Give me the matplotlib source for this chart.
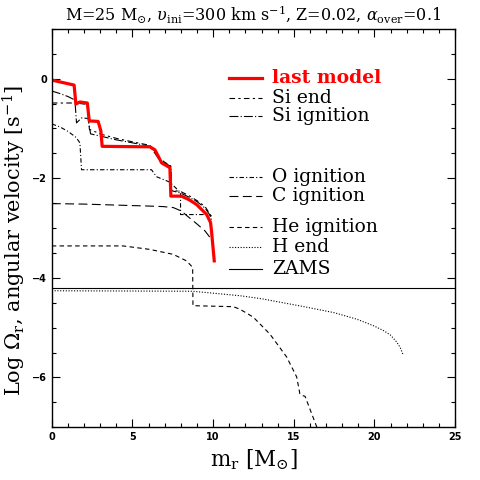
import matplotlib
matplotlib.use("Agg")
import matplotlib.pyplot as plt
from matplotlib.ticker import MultipleLocator

# curves (m_r in Msun, log Omega)
last_x = [0, 1.38, 1.49, 1.74, 2.2, 2.32, 2.87, 3.04, 3.12, 6.08, 6.39, 6.6, 6.8, 7.32, 7.38,
          8.04, 8.5, 8.98, 9.6, 9.84, 9.9, 10.07]
last_y = [-0.03, -0.13, -0.51, -0.47, -0.49, -0.85, -0.86, -1.05, -1.36, -1.37, -1.43, -1.56,
          -1.69, -1.79, -2.36, -2.36, -2.43, -2.53, -2.73, -2.89, -3.06, -3.66]

siend_x = [0, 1.43, 1.5, 1.74, 2.2, 2.33, 3.08, 4.0, 5.0, 6.08, 6.4, 6.6, 7.0, 7.36, 7.42,
           8.0, 8.5, 9.0, 9.5, 9.8, 9.9]
siend_y = [-0.49, -0.49, -0.52, -0.5, -0.52, -1.02, -1.12, -1.2, -1.27, -1.34, -1.46, -1.58,
           -1.68, -1.75, -2.24, -2.27, -2.35, -2.45, -2.57, -2.72, -2.82]

siign_x = [0, 0.5, 1.0, 1.43, 1.53, 1.84, 2.25, 2.4, 3.08, 4.0, 5.0, 6.08, 6.35, 6.6, 7.0,
           7.38, 7.42, 8.0, 8.5, 9.0, 9.5, 9.8, 9.92]
siign_y = [-0.25, -0.3, -0.36, -0.43, -0.89, -0.79, -0.8, -1.11, -1.16, -1.23, -1.29, -1.36,
           -1.48, -1.6, -1.7, -1.76, -2.25, -2.3, -2.38, -2.47, -2.6, -2.74, -2.86]

oign_x = [0, 0.5, 1.0, 1.5, 1.74, 1.84, 4.0, 6.18, 6.49, 7.32, 7.98, 7.98, 9.8, 9.9]
oign_y = [-0.91, -0.97, -1.06, -1.18, -1.29, -1.83, -1.83, -1.83, -1.97, -2.08, -2.29, -2.73,
          -2.73, -2.76]

cign_x = [0, 2, 4, 6.08, 6.9, 7.53, 8.04, 8.36, 9.0, 9.5, 9.9]
cign_y = [-2.51, -2.52, -2.54, -2.56, -2.57, -2.59, -2.66, -2.75, -2.92, -3.06, -3.23]

heign_x = [0, 4.42, 6.08, 7.53, 8.35, 8.73, 8.75, 11.25, 11.66, 12.49, 13.52, 14.56, 15.18,
           15.38, 15.5, 15.7, 16.42, 16.6]
heign_y = [-3.36, -3.36, -3.43, -3.53, -3.66, -3.79, -4.56, -4.58, -4.63, -4.79, -5.13, -5.59,
           -5.99, -6.33, -6.36, -6.38, -6.99, -7.3]

hend_x = [0, 8.73, 11.66, 13.0, 15.8, 17.5, 18.9, 20.0, 20.56, 21.0, 21.38, 21.6, 21.76]
hend_y = [-4.26, -4.27, -4.36, -4.42, -4.59, -4.7, -4.83, -4.97, -5.06, -5.15, -5.29, -5.4, -5.53]

zams_x = [0, 25]
zams_y = [-4.21, -4.21]

plt.rcParams['font.family'] = 'DejaVu Serif'
plt.rcParams['mathtext.fontset'] = 'dejavuserif'

fig = plt.figure(figsize=(4.8, 4.8), dpi=100)
ax = fig.add_axes([0.108, 0.110, 0.840, 0.830])

curves = [
    (zams_x, zams_y, '-', 'ZAMS'),
    (hend_x, hend_y, (0, (1, 1.5)), 'H end'),
    (heign_x, heign_y, (0, (4, 3)), 'He ignition'),
    (cign_x, cign_y, (0, (8, 4)), 'C ignition'),
    (oign_x, oign_y, (0, (4, 2, 1, 2)), 'O ignition'),
    (siign_x, siign_y, (0, (8, 2, 1, 2)), 'Si ignition'),
    (siend_x, siend_y, (0, (5, 3, 2, 3)), 'Si end'),
]
for xs, ys, ls, lab in curves:
    ax.plot(xs, ys, color='black', lw=0.8, linestyle=ls)
ax.plot(last_x, last_y, color='red', lw=2.3)

# hand-placed legend, like the original
leg_y = {'last model': 0.02, 'Si end': -0.38, 'Si ignition': -0.76, 'O ignition': -1.98,
         'C ignition': -2.36, 'He ignition': -2.98, 'H end': -3.38, 'ZAMS': -3.82}
styles = {lab: ls for _, _, ls, lab in curves}
for lab, yy in leg_y.items():
    if lab == 'last model':
        ax.plot([11.0, 13.0], [yy, yy], color='red', lw=2.3)
        ax.text(13.65, yy, lab, color='red', fontsize=13.5, fontweight='bold', va='center')
    else:
        ax.plot([11.0, 13.0], [yy, yy], color='black', lw=0.8, linestyle=styles[lab])
        ax.text(13.65, yy, lab, color='black', fontsize=13.5, va='center')

ax.set_xlim(0, 25)
ax.set_ylim(-7, 1)
ax.xaxis.set_major_locator(MultipleLocator(5))
ax.xaxis.set_minor_locator(MultipleLocator(1))
ax.yaxis.set_major_locator(MultipleLocator(2))
ax.yaxis.set_minor_locator(MultipleLocator(0.5))
ax.tick_params(which='both', direction='in', top=True, right=True, labelsize=7)
ax.tick_params(which='major', length=6, width=0.8)
ax.tick_params(which='minor', length=3, width=0.8)
for lbl in ax.get_xticklabels() + ax.get_yticklabels():
    lbl.set_family('DejaVu Sans')
    lbl.set_fontweight('bold')
for s in ax.spines.values():
    s.set_linewidth(1.0)

ax.set_xlabel(r'm$_{\rm r}$ [M$_{\odot}$]', fontsize=15.5)
ax.set_ylabel(r'Log $\Omega_{\rm r}$, angular velocity [s$^{-1}$]', fontsize=15)
ax.yaxis.set_label_coords(-0.06, 0.47)
ax.set_title(r'M=25 M$_{\odot}$, $\upsilon_{\rm ini}$=300 km s$^{-1}$, Z=0.02, '
             r'$\alpha_{\rm over}$=0.1', fontsize=11.5)

fig.savefig('out.png', dpi=100)
